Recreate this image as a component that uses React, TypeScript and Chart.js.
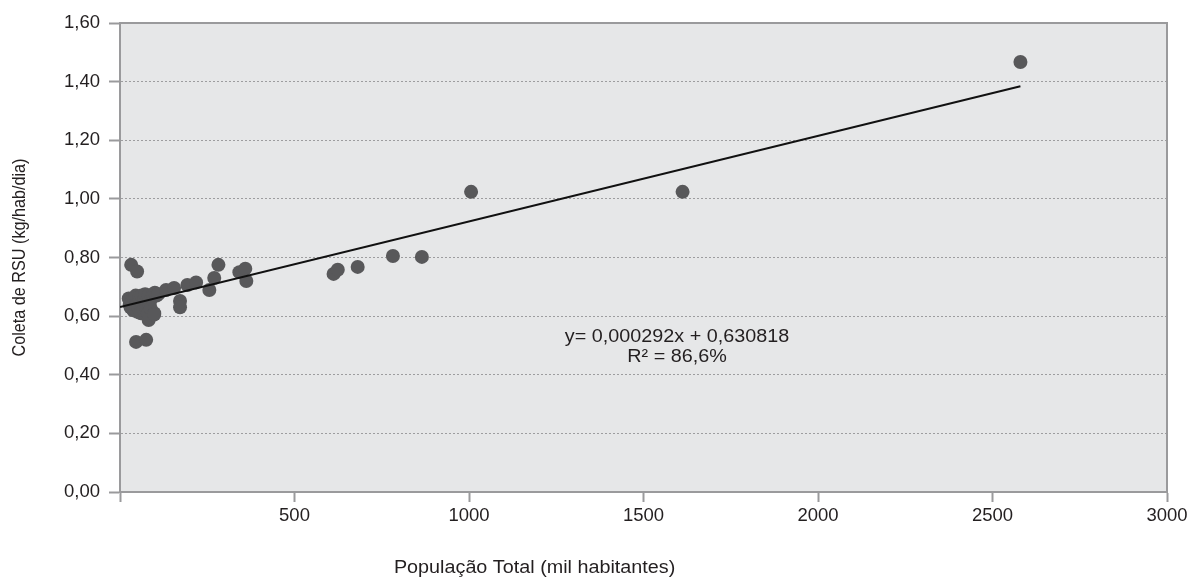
import React, { useEffect, useRef } from "react";
import { Chart, registerables } from "chart.js";

Chart.register(...registerables);

// População Total (mil habitantes)
const populacao: number[] = [
  25, 28, 30, 35, 38, 40, 45, 48, 50, 52, 55, 58, 60, 62, 65, 68, 70, 72, 75, 78,
  80, 82, 85, 88, 90, 95, 98, 100, 105, 110, 82, 98, 32, 49, 46, 75,
  132, 155, 172, 172, 193, 218, 256, 270, 282, 342, 359, 362,
  612, 624, 681, 782, 865, 1006, 1612, 2580,
];
// Coleta de RSU (kg/hab/dia)
const coleta: number[] = [
  0.66, 0.64, 0.63, 0.655, 0.62, 0.66, 0.67, 0.64, 0.615, 0.63, 0.665, 0.65, 0.61, 0.67, 0.64, 0.62, 0.66, 0.675, 0.63, 0.65,
  0.61, 0.67, 0.64, 0.625, 0.66, 0.675, 0.61, 0.68, 0.67, 0.675, 0.587, 0.605, 0.775, 0.752, 0.512, 0.519,
  0.689, 0.696, 0.652, 0.63, 0.706, 0.715, 0.689, 0.73, 0.775, 0.75, 0.762, 0.72,
  0.744, 0.758, 0.768, 0.805, 0.802, 1.024, 1.024, 1.467,
];

const slope = 0.000292;
const intercept = 0.630818;
const trendRange: number[] = [0, 2580];

const yTicks: number[] = [0, 0.2, 0.4, 0.6, 0.8, 1.0, 1.2, 1.4, 1.6];
const xTicks: number[] = [0, 500, 1000, 1500, 2000, 2500, 3000];

const equationText = "y= 0,000292x + 0,630818";
const r2Text = "R² = 86,6%";
const xTitle = "População Total (mil habitantes)";
const yTitle = "Coleta de RSU (kg/hab/dia)";

const FONT = "'Liberation Sans', Arial, Helvetica, sans-serif";
const TEXT = "#231f20";
const AXIS = "#9a9a9c";
const STRETCH = 1.13;

function stretchedText(ctx: any, text: string, x: number, y: number) {
  ctx.save();
  ctx.translate(x, y);
  ctx.scale(STRETCH, 1);
  ctx.fillText(text, 0, 0);
  ctx.restore();
}

const decorPlugin = {
  id: "decor",
  beforeDraw(chart: any) {
    const { ctx, chartArea } = chart;
    const { left, top, right, bottom } = chartArea;
    ctx.save();
    ctx.fillStyle = "#e6e7e8";
    ctx.fillRect(left, top, right - left, bottom - top);
    ctx.restore();
  },
  beforeDatasetsDraw(chart: any) {
    const { ctx, chartArea } = chart;
    const { left, top, right, bottom } = chartArea;
    ctx.save();
    ctx.strokeStyle = AXIS;
    ctx.lineWidth = 2;
    ctx.beginPath();
    ctx.moveTo(left, top);
    ctx.lineTo(right, top);
    ctx.lineTo(right, bottom);
    ctx.stroke();
    ctx.restore();
  },
  afterDraw(chart: any) {
    const { ctx, chartArea, scales } = chart;
    const { left, top, right, bottom } = chartArea;
    ctx.save();
    ctx.fillStyle = TEXT;
    ctx.font = `17.5px ${FONT}`;
    ctx.textAlign = "center";
    ctx.textBaseline = "middle";
    const ex = scales.x.getPixelForValue(1596);
    stretchedText(ctx, equationText, ex, scales.y.getPixelForValue(0.529));
    stretchedText(ctx, r2Text, ex, scales.y.getPixelForValue(0.461));
    stretchedText(ctx, xTitle, left + (right - left) * 0.396, 568);
    ctx.font = `16.2px ${FONT}`;
    ctx.translate(20, (top + bottom) / 2);
    ctx.rotate(-Math.PI / 2);
    ctx.scale(1, 1.1);
    ctx.fillText(yTitle, 0, 0);
    ctx.restore();
  },
};

export default function App() {
  const ref = useRef<HTMLCanvasElement | null>(null);

  useEffect(() => {
    if (!ref.current) return;
    const points = populacao.map((x, i) => ({ x, y: coleta[i] }));
    const trend = trendRange.map((x) => ({ x, y: slope * x + intercept }));
    const chart = new Chart(ref.current, {
      type: "scatter",
      data: {
        datasets: [
          {
            type: "line",
            data: trend,
            borderColor: "#111111",
            borderWidth: 2,
            pointRadius: 0,
            fill: false,
            order: 0,
          } as any,
          {
            data: points,
            backgroundColor: "#58585a",
            borderWidth: 0,
            pointRadius: 7,
            pointHoverRadius: 7,
            order: 1,
          },
        ],
      },
      options: {
        responsive: false,
        maintainAspectRatio: false,
        animation: false,
        events: [],
        layout: { padding: { top: 23, right: 24, left: 0, bottom: 0 } },
        plugins: {
          legend: { display: false },
          tooltip: { enabled: false },
          title: { display: false },
        },
        scales: {
          x: {
            type: "linear",
            min: 0,
            max: 3000,
            afterBuildTicks: (scale: any) => {
              scale.ticks = xTicks.map((v) => ({ value: v }));
            },
            afterFit: (scale: any) => {
              scale.height = 89;
            },
            ticks: {
              color: TEXT,
              font: { family: FONT, size: 18.5 },
              padding: 3,
              maxRotation: 0,
              callback: (v: any) => (v === 0 ? "" : String(v)),
            },
            grid: {
              drawOnChartArea: false,
              drawTicks: true,
              tickLength: 10,
              tickColor: AXIS,
              tickWidth: 2,
            },
            border: { color: AXIS, width: 2 },
          },
          y: {
            type: "linear",
            min: 0,
            max: 1.6,
            afterBuildTicks: (scale: any) => {
              scale.ticks = yTicks.map((v) => ({ value: v }));
            },
            afterFit: (scale: any) => {
              scale.width = 120;
            },
            ticks: {
              color: TEXT,
              font: { family: FONT, size: 18.5 },
              padding: 9,
              callback: (v: any) => Number(v).toFixed(2).replace(".", ","),
            },
            grid: {
              color: "#9d9d9f",
              lineWidth: 1,
              tickLength: 11,
              tickColor: AXIS,
              tickWidth: 2,
              tickBorderDash: [],
            },
            border: { color: AXIS, width: 2, dash: [2, 2] },
          },
        },
      },
      plugins: [decorPlugin],
    });
    return () => chart.destroy();
  }, []);

  return (
    <div style={{ position: "absolute", left: 0, top: 0, width: 1191, height: 581, background: "#fff" }}>
      <canvas ref={ref} width={1191} height={581} style={{ display: "block" }} />
    </div>
  );
}
